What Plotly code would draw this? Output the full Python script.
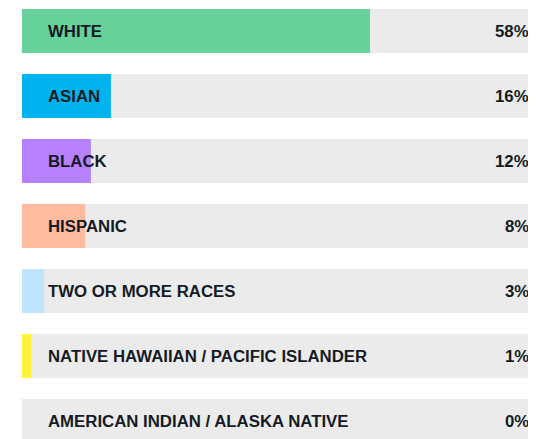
import plotly.graph_objects as go

categories = [
    "WHITE",
    "ASIAN",
    "BLACK",
    "HISPANIC",
    "TWO OR MORE RACES",
    "NATIVE HAWAIIAN / PACIFIC ISLANDER",
    "AMERICAN INDIAN / ALASKA NATIVE",
]
# bar lengths as drawn (share of the full track, 0-100)
bar_values = [67.7, 17.3, 13.4, 12.3, 4.3, 1.8, 0.0]
pct_labels = ["58%", "16%", "12%", "8%", "3%", "1%", "0%"]
colors = ["#66D19A", "#00B3EF", "#B680FF", "#FFBBA0", "#BEE5FC", "#FFF23A", "#D9D9D9"]
track_max = 100

# the page puts the figure 8px in from the top-left corner
OFF = 8
W, H = 536 - OFF, 439 - OFF
L = 22 - OFF
CENTER0 = 31 - OFF
PITCH = 65
text_color = "#151B24"
font_family = "Liberation Sans, Arial, sans-serif"

fig = go.Figure()
fig.add_trace(go.Bar(
    y=categories, x=[track_max] * len(categories), orientation="h",
    marker=dict(color="#EBEBEB", line=dict(width=0)),
    width=44 / PITCH, hoverinfo="skip", showlegend=False,
))
fig.add_trace(go.Bar(
    y=categories, x=bar_values, orientation="h",
    marker=dict(color=colors, line=dict(width=0)),
    width=44 / PITCH, showlegend=False,
))

plot_w = W - L
for cat, pct in zip(categories, pct_labels):
    fig.add_annotation(
        x=(47 - OFF - L) / plot_w, xref="paper", y=cat, yref="y",
        text=f"<b>{cat}</b>", showarrow=False, xanchor="left", yanchor="middle",
        font=dict(family=font_family, size=16.8, color=text_color),
        borderpad=0,
    )
    fig.add_annotation(
        x=(530 - OFF - L) / plot_w, xref="paper", y=cat, yref="y",
        text=f"<b>{pct}</b>", showarrow=False, xanchor="right", yanchor="middle",
        font=dict(family=font_family, size=16.8, color=text_color),
        borderpad=0,
    )

fig.update_layout(
    width=W, height=H,
    margin=dict(l=L, r=0, t=0, b=0),
    barmode="overlay",
    plot_bgcolor="white", paper_bgcolor="white",
    xaxis=dict(range=[0, track_max], visible=False, fixedrange=True),
    yaxis=dict(range=[(H - CENTER0) / PITCH, -CENTER0 / PITCH], visible=False, fixedrange=True),
)

fig.write_html("out.html", config={"displayModeBar": False})
